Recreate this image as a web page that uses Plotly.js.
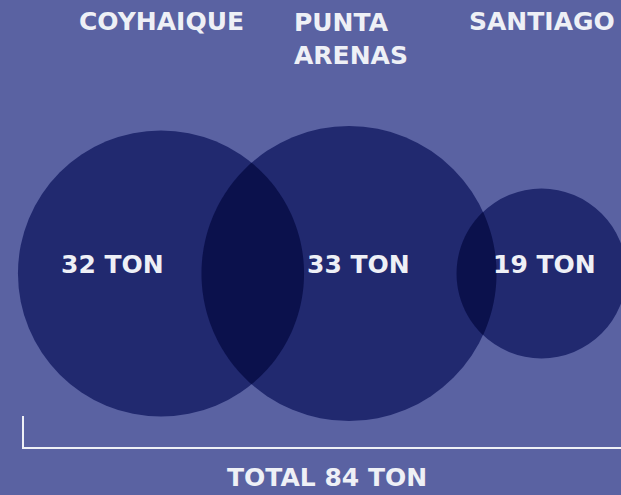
<!DOCTYPE html>
<html><head><meta charset="utf-8">
<script src="https://cdn.plot.ly/plotly-3.0.1.min.js"></script>
<style>html,body{margin:0;padding:0;background:#5a62a2;}#chart{width:621px;height:495px;}</style>
</head><body><div id="chart"></div>
<script>
// data
const cities = ['COYHAIQUE', 'PUNTA<br>ARENAS', 'SANTIAGO'];
const tons = [32, 33, 19];
const valueLabels = ['32 TON', '33 TON', '19 TON'];
const totalLabel = 'TOTAL 84 TON';

// layout constants (pixel-space axes)
const W = 621, H = 495;
const K = 4.47;                 // px of radius per ton
const centersX = [161, 349, 541.5];
const centerY = 273.5;
const valueLabelX = [112, 358, 544];
const titleX = [161, 292, 542];
const titleY = [21.5, 38.5, 21.5];
const titleAnchor = ['center', 'left', 'center'];

const BG = '#5a62a2', CIRC = '#21296f', LENS = '#0b114c', TXT = '#eef0f6';
const FONT = 'DejaVu Sans';
const FS = 25;

const shapes = [];
tons.forEach((v, i) => {
  const r = K * v;
  shapes.push({type: 'circle', xref: 'x', yref: 'y',
    x0: centersX[i] - r, x1: centersX[i] + r, y0: centerY - r, y1: centerY + r,
    fillcolor: CIRC, line: {width: 0}, layer: 'above'});
});
// overlap lenses between neighbours
for (let i = 0; i < tons.length - 1; i++) {
  const r1 = K * tons[i], r2 = K * tons[i + 1];
  const x1 = centersX[i], x2 = centersX[i + 1];
  const d = x2 - x1;
  if (d >= r1 + r2) continue;
  const a = (r1 * r1 - r2 * r2 + d * d) / (2 * d);
  const h = Math.sqrt(r1 * r1 - a * a);
  const tA = Math.atan2(h, a), phi = Math.atan2(h, d - a);
  const pts = [];
  const N = 80;
  for (let k = 0; k <= N; k++) {
    const t = -tA + 2 * tA * k / N;
    pts.push([x1 + r1 * Math.cos(t), centerY + r1 * Math.sin(t)]);
  }
  for (let k = 0; k <= N; k++) {
    const t = Math.PI - phi + 2 * phi * k / N;
    pts.push([x2 + r2 * Math.cos(t), centerY + r2 * Math.sin(t)]);
  }
  const path = 'M' + pts.map(p => p[0].toFixed(2) + ',' + p[1].toFixed(2)).join('L') + 'Z';
  shapes.push({type: 'path', xref: 'x', yref: 'y', path: path, fillcolor: LENS, line: {width: 0}, layer: 'above'});
}
// total bracket
shapes.push({type: 'path', xref: 'x', yref: 'y', path: 'M23,416L23,448L621,448',
  line: {color: TXT, width: 2}, layer: 'above'});

const font = {family: FONT, size: FS, color: TXT, weight: 'bold'};
const annotations = [];
cities.forEach((c, i) => {
  annotations.push({x: titleX[i], y: titleY[i], xref: 'x', yref: 'y', text: c,
    showarrow: false, xanchor: titleAnchor[i], yanchor: 'middle', align: 'left', font: font});
  annotations.push({x: valueLabelX[i], y: 264, xref: 'x', yref: 'y', text: valueLabels[i],
    showarrow: false, xanchor: 'center', yanchor: 'middle', font: font});
});
annotations.push({x: 327, y: 477.5, xref: 'x', yref: 'y', text: totalLabel, showarrow: false,
  xanchor: 'center', yanchor: 'middle', font: font});

const layout = {
  width: W, height: H, margin: {l: 0, r: 0, t: 0, b: 0},
  paper_bgcolor: BG, plot_bgcolor: BG,
  xaxis: {range: [0, W], visible: false, fixedrange: true},
  yaxis: {range: [H, 0], visible: false, fixedrange: true},
  shapes: shapes, annotations: annotations, showlegend: false
};
Plotly.newPlot('chart', [{x: [], y: [], type: 'scatter', hoverinfo: 'skip'}], layout, {displayModeBar: false, staticPlot: true});
</script></body></html>
